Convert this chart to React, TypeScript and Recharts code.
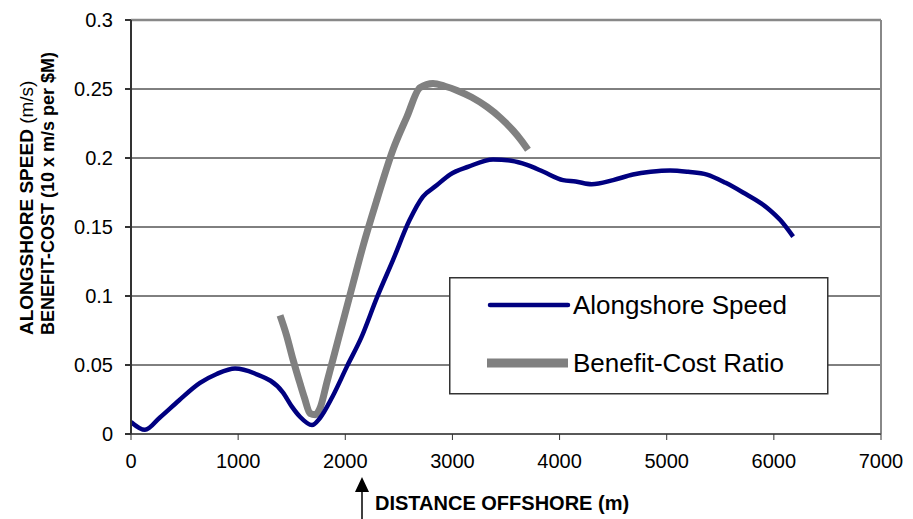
import React from 'react';
import {
  LineChart,
  Line,
  XAxis,
  YAxis,
  CartesianGrid,
  ReferenceLine,
} from 'recharts';

// Alongshore speed (m/s) vs distance offshore (m)
const speedX = [0, 130, 270, 450, 644, 800, 971, 1150, 1419, 1500, 1577, 1689, 1764, 1880, 2016, 2150, 2296, 2445, 2600, 2725, 2850, 2977, 3150, 3379, 3550, 3696, 3850, 4032, 4150, 4300, 4500, 4685, 4850, 5031, 5200, 5376, 5550, 5712, 5936, 6060, 6180];
const speedY = [0.0087, 0.003, 0.012, 0.0245, 0.037, 0.0435, 0.0475, 0.044, 0.03, 0.02, 0.0125, 0.0065, 0.0116, 0.027, 0.049, 0.07, 0.099, 0.126, 0.155, 0.172, 0.18, 0.188, 0.1937, 0.199, 0.198, 0.195, 0.19, 0.184, 0.183, 0.181, 0.184, 0.188, 0.19, 0.191, 0.19, 0.188, 0.182, 0.175, 0.164, 0.155, 0.143];

// Benefit-cost ratio (10 x m/s per $M)
const ratioX = [1391, 1450, 1512, 1580, 1620, 1670, 1720, 1770, 1830, 1885, 1980, 2072, 2165, 2296, 2445, 2576, 2697, 2819, 2930, 3043, 3180, 3323, 3450, 3565, 3640, 3705];
const ratioY = [0.086, 0.072, 0.054, 0.036, 0.026, 0.015, 0.014, 0.02, 0.038, 0.054, 0.082, 0.109, 0.136, 0.17, 0.206, 0.23, 0.251, 0.254, 0.252, 0.249, 0.244, 0.237, 0.229, 0.22, 0.213, 0.206];

const xTicks = [0, 1000, 2000, 3000, 4000, 5000, 6000, 7000];
const yTicks = [0, 0.05, 0.1, 0.15, 0.2, 0.25, 0.3];

const speedData = speedX.map((x, i) => ({ x, value: speedY[i] }));
const ratioData = ratioX.map((x, i) => ({ x, value: ratioY[i] }));

const FONT = 'Arial, "Liberation Sans", sans-serif';
const BLUE = '#000080';
const GRAY = '#808080';

export default function App() {
  return (
    <div style={{ position: 'relative', width: 913, height: 519, background: '#fff', fontFamily: FONT }}>
      <style>{'body{margin:0}'}</style>
      <LineChart
        width={913}
        height={519}
        margin={{ top: 20, right: 32, bottom: 45, left: 0 }}
      >
        <CartesianGrid vertical={false} stroke="#000" strokeWidth={1} />
        <XAxis
          dataKey="x"
          type="number"
          domain={[0, 7000]}
          ticks={xTicks}
          height={40}
          stroke="#333"
          tickSize={6}
          tickMargin={14}
          tick={{ fill: '#000', fontSize: 20, fontFamily: FONT }}
          allowDataOverflow
        />
        <YAxis
          type="number"
          domain={[0, 0.3]}
          ticks={yTicks}
          width={131}
          stroke="#333"
          strokeWidth={2}
          tickSize={6}
          tickMargin={12}
          tick={{ fill: '#000', fontSize: 20, fontFamily: FONT }}
          tickFormatter={(v) => String(v)}
        />
        <ReferenceLine y={0.3} stroke="#888" strokeWidth={2.5} />
        <ReferenceLine x={7000} stroke="#888" strokeWidth={2} />
        <Line
          data={ratioData}
          dataKey="value"
          name="Benefit-Cost Ratio"
          type="monotone"
          stroke={GRAY}
          strokeWidth={7}
          dot={false}
          isAnimationActive={false}
        />
        <Line
          data={speedData}
          dataKey="value"
          name="Alongshore Speed"
          type="monotone"
          stroke={BLUE}
          strokeWidth={4.5}
          dot={false}
          isAnimationActive={false}
        />
      </LineChart>

      {/* legend, axis titles and the arrow */}
      <svg
        width={913}
        height={519}
        style={{ position: 'absolute', left: 0, top: 0, pointerEvents: 'none' }}
      >
        <g transform="translate(449,277)">
          <rect x={0.75} y={0.75} width={378} height={116} fill="#fff" stroke="#333" strokeWidth={1.5} />
          <line x1={41} y1={28} x2={119} y2={28} stroke={BLUE} strokeWidth={4.5} strokeLinecap="round" />
          <text x={124} y={37} fontFamily={FONT} fontSize={26} fill="#000">Alongshore Speed</text>
          <line x1={38} y1={86} x2={119} y2={86} stroke={GRAY} strokeWidth={9} />
          <text x={124} y={95} fontFamily={FONT} fontSize={26} fill="#000">Benefit-Cost Ratio</text>
        </g>
        <text
          transform="translate(33,335) rotate(-90)"
          fontFamily={FONT}
          fontSize={19}
          fontWeight="bold"
          fill="#000"
        >
          ALONGSHORE SPEED <tspan fontWeight="normal">(m/s)</tspan>
        </text>
        <text
          transform="translate(54,335) rotate(-90)"
          fontFamily={FONT}
          fontSize={18}
          fontWeight="bold"
          fill="#000"
        >
          BENEFIT-COST (10 x m/s per $M)
        </text>
        <line x1={362} y1={519} x2={362} y2={490} stroke="#000" strokeWidth={1.5} />
        <polygon points="362,477 355,492 369,492" fill="#000" />
        <text x={375} y={510} fontFamily={FONT} fontSize={20} fontWeight="bold" fill="#000">
          DISTANCE OFFSHORE (m)
        </text>
      </svg>
    </div>
  );
}
